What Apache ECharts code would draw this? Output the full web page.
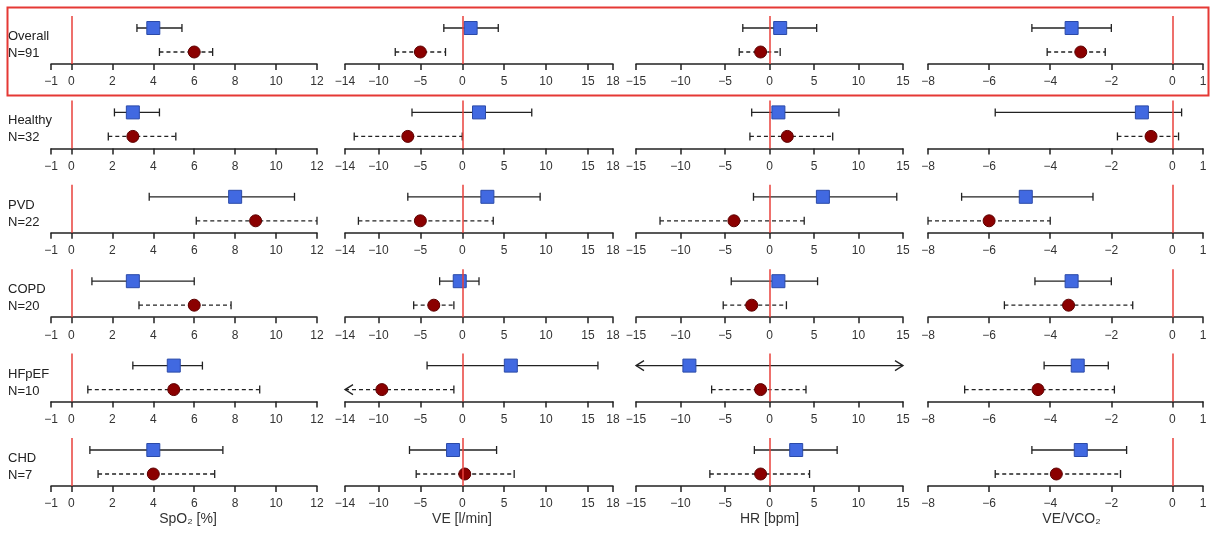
<!DOCTYPE html>
<html>
<head>
<meta charset="utf-8">
<script src="https://cdn.jsdelivr.net/npm/echarts@6.0.0/dist/echarts.min.js"></script>
<style>
  html, body { margin: 0; padding: 0; background: #fff; }
  #forest { width: 1210px; height: 536px; }
</style>
</head>
<body>
<div id="forest"></div>
<script>
// groups (rows)
const groups = ['Overall', 'Healthy', 'PVD', 'COPD', 'HFpEF', 'CHD'];
const groupN = [91, 32, 22, 20, 10, 7];

// measures (columns)
const measures = ['SpO\u2082 [%]', 'VE [l/min]', 'HR [bpm]', 'VE/VCO\u2082'];

// tick labels per column
const spo2Ticks = [-1, 0, 2, 4, 6, 8, 10, 12];
const veTicks = [-14, -10, -5, 0, 5, 10, 15, 18];
const hrTicks = [-15, -10, -5, 0, 5, 10, 15];
const ratioTicks = [-8, -6, -4, -2, 0, 1];

// [estimate, lower, upper] per group; null = interval runs past the axis (arrow)
const spo2Solid = [[4.0, 3.2, 5.4], [3.0, 2.1, 4.3], [8.0, 3.8, 10.9], [3.0, 1.0, 6.0], [5.0, 3.0, 6.4], [4.0, 0.9, 7.4]];
const spo2Dashed = [[6.0, 4.3, 6.9], [3.0, 1.8, 5.1], [9.0, 6.1, 12.0], [6.0, 3.3, 7.8], [5.0, 0.8, 9.2], [4.0, 1.3, 7.0]];
const veSolid = [[1.0, -2.2, 4.3], [2.0, -6.0, 8.3], [3.0, -6.5, 9.3], [-0.3, -2.7, 2.0], [5.8, -4.2, 16.2], [-1.1, -6.3, 4.1]];
const veDashed = [[-5.0, -8.0, -2.0], [-6.5, -12.9, 0.0], [-5.0, -12.4, 3.7], [-3.4, -5.8, -1.0], [-9.6, null, -1.0], [0.3, -5.5, 6.2]];
const hrSolid = [[1.2, -3.0, 5.3], [1.0, -2.0, 7.8], [6.0, -1.8, 14.3], [1.0, -4.3, 5.4], [-9.0, null, null], [3.0, -1.7, 7.6]];
const hrDashed = [[-1.0, -3.4, 1.2], [2.0, -2.2, 7.1], [-4.0, -12.3, 3.9], [-2.0, -5.2, 1.9], [-1.0, -6.5, 4.1], [-1.0, -6.7, 4.5]];
const ratioSolid = [[-3.3, -4.6, -2.0], [-1.0, -5.8, 0.3], [-4.8, -6.9, -2.6], [-3.3, -4.5, -2.0], [-3.1, -4.2, -2.1], [-3.0, -4.6, -1.5]];
const ratioDashed = [[-3.0, -4.1, -2.2], [-0.7, -1.8, 0.2], [-6.0, -8.0, -4.0], [-3.4, -5.5, -1.3], [-4.4, -6.8, -1.9], [-3.8, -5.8, -1.7]];

const columns = [
  { ticks: spo2Ticks, solid: spo2Solid, dashed: spo2Dashed },
  { ticks: veTicks, solid: veSolid, dashed: veDashed },
  { ticks: hrTicks, solid: hrSolid, dashed: hrDashed },
  { ticks: ratioTicks, solid: ratioSolid, dashed: ratioDashed },
];

// layout (px)
const colLeft = [51, 345, 636, 928];
const colRight = [317, 613, 903, 1203];
const rowAxisY = [64, 148.4, 232.8, 317.2, 401.6, 486];
const panelH = 48;
const titleShift = [8, -34, 0, 12];

const chartInstance = echarts.init(document.getElementById('forest'));

const minus = v => String(v).replace('-', '\u2212');
const inkColor = '#222';

// error bar with caps (or open arrows where the interval runs off the axis)
function ciRender(rows, axisMin, axisMax) {
  return function (params, api) {
    const r = rows[params.dataIndex];
    const y = api.coord([0, r.y])[1];
    const x1 = api.coord([r.lo == null ? axisMin : r.lo, r.y])[0];
    const x2 = api.coord([r.hi == null ? axisMax : r.hi, r.y])[0];
    const ls = { stroke: inkColor, lineWidth: 1.3, lineDash: r.dashed ? [4, 3] : null, fill: 'none' };
    const cap = { stroke: inkColor, lineWidth: 1.3, fill: 'none' };
    const kids = [{ type: 'line', shape: { x1: x1, y1: y, x2: x2, y2: y }, style: ls }];
    if (r.lo == null) {
      kids.push({ type: 'polyline', shape: { points: [[x1 + 8, y - 5], [x1, y], [x1 + 8, y + 5]] }, style: cap });
    } else {
      kids.push({ type: 'line', shape: { x1: x1, y1: y - 4, x2: x1, y2: y + 4 }, style: cap });
    }
    if (r.hi == null) {
      kids.push({ type: 'polyline', shape: { points: [[x2 - 8, y - 5], [x2, y], [x2 - 8, y + 5]] }, style: cap });
    } else {
      kids.push({ type: 'line', shape: { x1: x2, y1: y - 4, x2: x2, y2: y + 4 }, style: cap });
    }
    return { type: 'group', children: kids };
  };
}

const grids = [], xAxes = [], yAxes = [], series = [], graphics = [];

groups.forEach((g, ri) => {
  columns.forEach((col, ci) => {
    const idx = grids.length;
    const axisMin = col.ticks[0];
    const axisMax = col.ticks[col.ticks.length - 1];
    grids.push({
      left: colLeft[ci], width: colRight[ci] - colLeft[ci],
      top: rowAxisY[ri] - panelH, height: panelH
    });
    const isBottom = ri === groups.length - 1;
    xAxes.push({
      type: 'value', gridIndex: idx, min: axisMin, max: axisMax,
      axisLine: { show: true, onZero: false, lineStyle: { color: inkColor, width: 1.5 } },
      axisTick: { show: true, customValues: col.ticks, length: 6, lineStyle: { color: inkColor, width: 1.5 } },
      axisLabel: { customValues: col.ticks, margin: 12, fontSize: 12, color: '#333', fontFamily: 'Liberation Sans, Arial, sans-serif', formatter: minus },
      splitLine: { show: false },
      name: isBottom ? measures[ci] : '',
      nameLocation: 'middle', nameGap: 26,
      nameTextStyle: {
        fontSize: 14, color: '#333', fontFamily: 'Liberation Sans, Arial, sans-serif',
        padding: titleShift[ci] >= 0 ? [0, 0, 0, titleShift[ci]] : [0, -titleShift[ci], 0, 0]
      }
    });
    yAxes.push({ type: 'value', gridIndex: idx, min: 0, max: 4, show: false });

    const s = col.solid[ri], d = col.dashed[ri];
    const bars = [
      { lo: s[1], hi: s[2], y: 3, dashed: false },
      { lo: d[1], hi: d[2], y: 1, dashed: true },
    ];
    series.push({
      type: 'custom', xAxisIndex: idx, yAxisIndex: idx, z: 2,
      renderItem: ciRender(bars, axisMin, axisMax),
      data: [[s[0], 3], [d[0], 1]],
      markLine: {
        silent: true, symbol: 'none', label: { show: false },
        lineStyle: { color: '#e8413b', width: 1.5, type: 'solid' },
        data: [{ xAxis: 0 }]
      }
    });
    series.push({
      type: 'scatter', xAxisIndex: idx, yAxisIndex: idx, z: 4,
      symbol: 'rect', symbolSize: 13,
      itemStyle: { color: '#4169e1', borderColor: '#2b4aa8', borderWidth: 1, opacity: 1 },
      data: [[s[0], 3]]
    });
    series.push({
      type: 'scatter', xAxisIndex: idx, yAxisIndex: idx, z: 4,
      symbol: 'circle', symbolSize: 12,
      itemStyle: { color: '#8b0000', borderColor: '#5c0000', borderWidth: 1, opacity: 1 },
      data: [[d[0], 1]]
    });
  });

  graphics.push({
    type: 'text', left: 8, top: rowAxisY[ri] - 36,
    style: {
      text: g + '\nN=' + groupN[ri], fontSize: 13, lineHeight: 17,
      fontFamily: 'Liberation Sans, Arial, sans-serif', fill: '#222'
    }
  });
});

// highlight box round the first row
graphics.push({
  type: 'rect', left: 5, top: 5,
  shape: { width: 1201, height: 88 },
  style: { fill: 'none', stroke: '#e53935', lineWidth: 2 }
});

chartInstance.setOption({
  animation: false,
  grid: grids,
  xAxis: xAxes,
  yAxis: yAxes,
  series: series,
  graphic: graphics
});
</script>
</body>
</html>
